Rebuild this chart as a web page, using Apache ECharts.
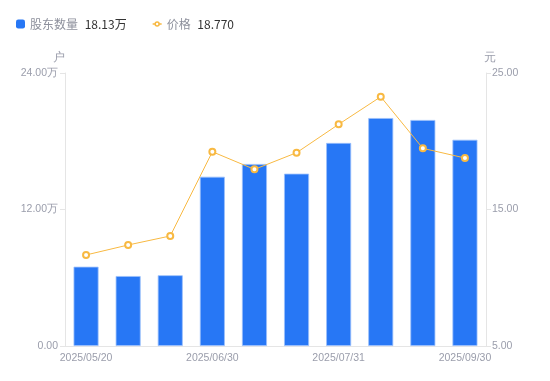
<!DOCTYPE html>
<html>
<head>
<meta charset="utf-8">
<script src="https://cdn.jsdelivr.net/npm/echarts@6/dist/echarts.min.js"></script>
<style>
  html, body { margin: 0; padding: 0; background: #fff; }
  #chart { width: 550px; height: 381px; }
</style>
</head>
<body>
<div id="chart"></div>
<script>
// 日期
var dates = ['2025/05/20', '2025/05/30', '2025/06/10', '2025/06/30', '2025/07/10',
             '2025/07/20', '2025/07/31', '2025/08/20', '2025/08/31', '2025/09/30'];
// 股东数量(万户)
var holders = [6.97, 6.15, 6.22, 14.88, 16.0, 15.15, 17.85, 20.04, 19.87, 18.13];
// 价格(元)
var prices = [11.67, 12.40, 13.06, 19.23, 17.94, 19.16, 21.24, 23.26, 19.48, 18.77];

var labelColor = '#9a9dab';
var lineColor = '#e5e5e5';
var barColor = '#2777f5';
var priceColor = '#f8b942';

var latest = {
  '股东数量': holders[holders.length - 1].toFixed(2) + '万',
  '价格': prices[prices.length - 1].toFixed(3)
};

// 折线图例: 线段 + 空心圆
var lineIcon = 'path://M0,3.6H2.4V5.4H0Z M7.6,3.6H10V5.4H7.6Z M5,1.5A3,3 0 1 1 4.999,1.5Z M5,3.2A1.3,1.3 0 1 0 5.001,3.2Z';

var option = {
  animation: false,
  legend: {
    left: 11,
    top: 13,
    itemWidth: 9,
    itemHeight: 9,
    itemGap: 26,
    data: [
      { name: '股东数量', icon: 'roundRect', itemStyle: { color: barColor, borderWidth: 0 } },
      { name: '价格', icon: lineIcon, itemStyle: { color: priceColor, borderWidth: 0 } }
    ],
    formatter: function (name) {
      return '{n|' + name + '}  {v|' + latest[name] + '}';
    },
    textStyle: {
      rich: {
        n: { color: '#8d909c', fontSize: 12, fontFamily: 'Noto Sans CJK SC' },
        v: { color: '#333', fontSize: 12, fontFamily: 'Noto Sans CJK SC' }
      }
    }
  },
  grid: { left: 65, right: 64, top: 73, bottom: 35 },
  xAxis: {
    type: 'category',
    data: dates,
    axisLine: { lineStyle: { color: lineColor } },
    axisTick: { show: false },
    axisLabel: { interval: 2, color: labelColor, fontSize: 10.5, margin: 7 }
  },
  yAxis: [{
    type: 'value',
    name: '户',
    min: 0, max: 24, interval: 12,
    nameGap: 9,
    nameTextStyle: { color: labelColor, fontSize: 12, align: 'right' },
    axisLine: { show: true, lineStyle: { color: lineColor } },
    axisTick: { show: true, length: 5, lineStyle: { color: lineColor } },
    splitLine: { show: false },
    axisLabel: {
      color: labelColor, fontSize: 10.5, margin: 7,
      formatter: function (v) { return v === 0 ? '0.00' : v.toFixed(2) + '万'; }
    }
  }, {
    type: 'value',
    name: '元',
    min: 5, max: 25, interval: 10,
    nameGap: 9,
    nameTextStyle: { color: labelColor, fontSize: 12, align: 'left', padding: [0, 0, 0, -2] },
    axisLine: { show: true, lineStyle: { color: lineColor } },
    axisTick: { show: true, length: 5, lineStyle: { color: lineColor } },
    splitLine: { show: false },
    axisLabel: {
      color: labelColor, fontSize: 10.5, margin: 6,
      formatter: function (v) { return v.toFixed(2); }
    }
  }],
  series: [{
    name: '股东数量',
    type: 'bar',
    data: holders,
    barWidth: 25,
    itemStyle: { color: barColor, borderColor: '#9cc0fb', borderWidth: 0.8 }
  }, {
    name: '价格',
    type: 'line',
    yAxisIndex: 1,
    data: prices,
    symbol: 'emptyCircle',
    symbolSize: 6,
    lineStyle: { color: priceColor, width: 1 },
    itemStyle: { color: priceColor, borderWidth: 2 }
  }]
};

var myChart = echarts.init(document.getElementById('chart'));
myChart.setOption(option);
window.addEventListener('resize', function () {
  myChart.resize();
}, false);
</script>
</body>
</html>
